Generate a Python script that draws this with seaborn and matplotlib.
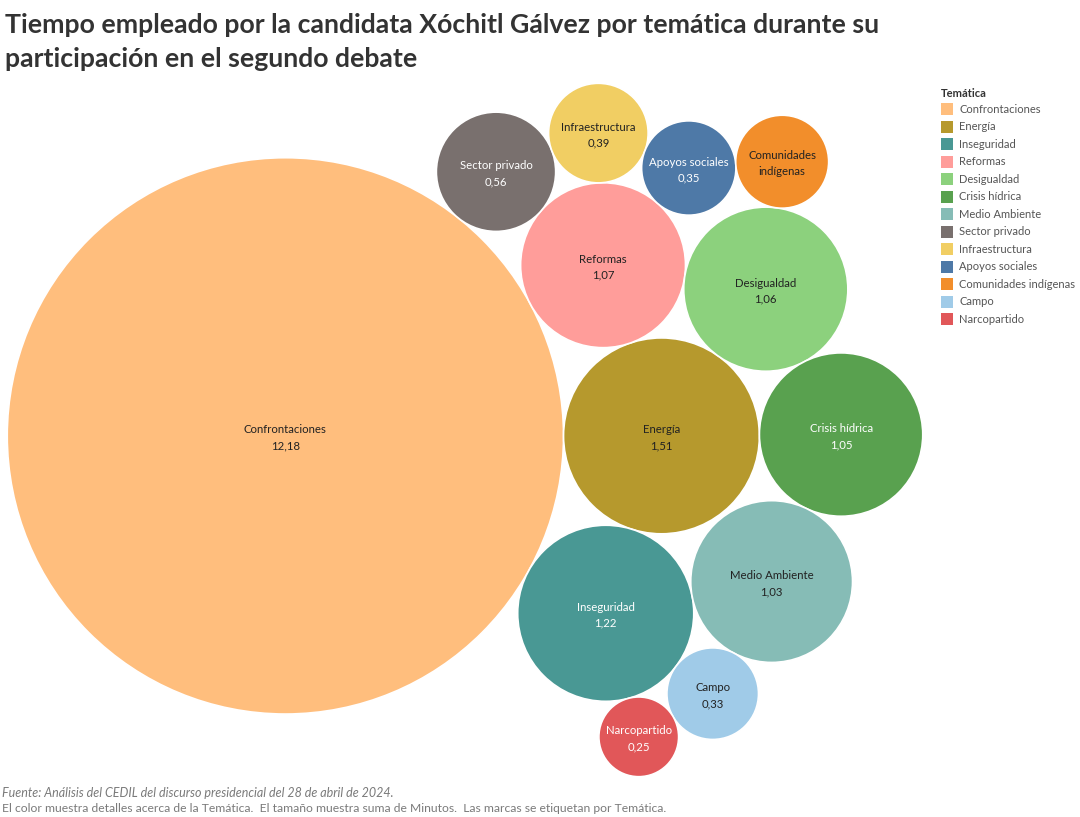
import numpy as np
import pandas as pd
import matplotlib.pyplot as plt
import matplotlib.colors as mcolors
import seaborn as sns

tematicas = ["Confrontaciones", "Energía", "Inseguridad", "Reformas", "Desigualdad",
             "Crisis hídrica", "Medio Ambiente", "Sector privado", "Infraestructura",
             "Apoyos sociales", "Comunidades indígenas", "Campo", "Narcopartido"]
minutos = [12.18, 1.51, 1.22, 1.07, 1.06, 1.05, 1.03, 0.56, 0.39, 0.35, 0.34, 0.33, 0.25]
colores = ["#FFBE7D", "#B6992D", "#499894", "#FF9D9A", "#8CD17D", "#59A14F", "#86BCB6",
           "#79706E", "#F1CE63", "#4E79A7", "#F28E2B", "#A0CBE8", "#E15759"]

titulo = ["Tiempo empleado por la candidata Xóchitl Gálvez por temática durante su",
          "participación en el segundo debate"]
fuente = "Fuente: Análisis del CEDIL del discurso presidencial del 28 de abril de 2024."
nota = "El color muestra detalles acerca de la Temática.  El tamaño muestra suma de Minutos.  Las marcas se etiquetan por Temática."

W, H, DPI = 1080, 817, 100
K = 79.7  # px de radio por raiz(minuto)


def place(a, b, r, px, py, pr):
    # circulo de radio r tangente a a y b, a la derecha de a->b
    dx, dy = px[b] - px[a], py[b] - py[a]
    d = np.hypot(dx, dy)
    da, db = pr[a] + r, pr[b] + r
    x = (d * d + da * da - db * db) / (2 * d)
    h = np.sqrt(max(da * da - x * x, 0))
    ux, uy = dx / d, dy / d
    return px[a] + x * ux + h * uy, py[a] + x * uy - h * ux


def pack(values):
    n = len(values)
    pr = [K * np.sqrt(v) for v in values]
    px, py = [0.0] * n, [0.0] * n
    px[1] = pr[0] + pr[1]
    ox, oy = pr[0], 0.0  # punto de contacto de los dos primeros
    px[2], py[2] = place(1, 0, pr[2], px, py, pr)
    nxt = {0: 1, 1: 2, 2: 0}
    prv = {1: 0, 2: 1, 0: 2}

    def hits(i, j):
        dr = pr[i] + pr[j] - 1e-6
        return dr > 0 and dr * dr > (px[i] - px[j]) ** 2 + (py[i] - py[j]) ** 2

    def closest(start):
        nodes, c = [start], nxt[start]
        while c != start:
            nodes.append(c)
            c = nxt[c]
        b = min(nodes, key=lambda q: np.hypot(px[q] - ox, py[q] - oy))
        return prv[b], b

    a, b = closest(0)
    i = 3
    while i < n:
        px[i], py[i] = place(a, b, pr[i], px, py, pr)
        j, k, sj, sk = nxt[b], prv[a], pr[b], pr[a]
        hit = False
        while True:
            if sj <= sk:
                if hits(j, i):
                    b = j
                    nxt[a], prv[b] = b, a
                    hit = True
                    break
                sj += pr[j]
                j = nxt[j]
            else:
                if hits(k, i):
                    a = k
                    nxt[a], prv[b] = b, a
                    hit = True
                    break
                sk += pr[k]
                k = prv[k]
            if j == nxt[k]:
                break
        if hit:
            continue
        nxt[a], prv[i], nxt[i], prv[b] = i, a, b, i
        a, b = closest(i)
        i += 1
    return np.array(px), np.array(py), np.array(pr)


px, py, pr = pack(minutos)
# centrar el grupo en el panel
cx = (np.min(px - pr) + np.max(px + pr)) / 2
cy = (np.min(py - pr) + np.max(py + pr)) / 2
df = pd.DataFrame({"tematica": tematicas, "minutos": minutos,
                   "x": px - cx + 465, "y": py - cy + 430, "r": pr})

sns.set_style("white")
plt.rcParams["font.family"] = ["Lato", "DejaVu Sans"]

fig = plt.figure(figsize=(W / DPI, H / DPI), dpi=DPI)
ax = fig.add_axes([0, 0, 1, 1])
ax.set_xlim(0, W)
ax.set_ylim(H, 0)
ax.axis("off")

smax = (2 * K * np.sqrt(max(minutos)) * 72 / DPI) ** 2
sns.scatterplot(data=df, x="x", y="y", hue="tematica", hue_order=tematicas,
                palette=dict(zip(tematicas, colores)), size="minutos",
                sizes=(0, smax), size_norm=(0, max(minutos)), legend=False,
                edgecolor="white", linewidth=1.2, alpha=1, ax=ax)

for _, row in df.iterrows():
    rgb = np.array(mcolors.to_rgb(dict(zip(tematicas, colores))[row.tematica])) * 255
    lum = 0.299 * rgb[0] + 0.587 * rgb[1] + 0.114 * rgb[2]
    tc = "white" if lum < 140 else "#222222"
    if row.tematica == "Comunidades indígenas":
        lines = ["Comunidades", "indígenas"]
    else:
        lines = [row.tematica, f"{row.minutos:.2f}".replace(".", ",")]
    ax.text(row.x, row.y - 6, lines[0], ha="center", va="center", fontsize=8.2, color=tc)
    ax.text(row.x, row.y + 10, lines[1], ha="center", va="center", fontsize=8.2, color=tc)

for n, linea in enumerate(titulo):
    ax.text(5, 33 + n * 34, linea, ha="left", va="baseline", fontsize=19.2,
            fontweight="bold", color="#333333")
ax.text(2, 793, fuente, ha="left", va="center", fontsize=9, style="italic", color="#7a7a7a")
ax.text(2, 809, nota, ha="left", va="center", fontsize=8.7, color="#7a7a7a")

# leyenda
ax.text(941, 93, "Temática", ha="left", va="center", fontsize=8, fontweight="bold", color="#333333")
for n, (t, c) in enumerate(zip(tematicas, colores)):
    yy = 109 + n * 17.5
    ax.add_patch(plt.Rectangle((941, yy - 6), 12, 12, color=c, lw=0))
    ax.text(959, yy, t, ha="left", va="center", fontsize=8, color="#555555")

fig.savefig("out.png", dpi=DPI)
